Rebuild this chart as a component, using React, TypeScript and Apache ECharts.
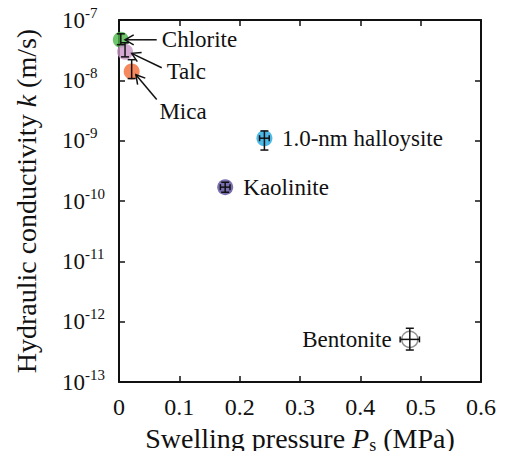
import { useEffect, useRef } from 'react';
import * as echarts from 'echarts';

// ---- data ----
const minerals = ['Chlorite', 'Talc', 'Mica', '1.0-nm halloysite', 'Kaolinite', 'Bentonite'];
const swellingPressure = [0.003, 0.010, 0.021, 0.241, 0.176, 0.482]; // MPa
const conductivity = [4.7e-8, 2.97e-8, 1.4e-8, 1.1e-9, 1.7e-10, 5.1e-13]; // m/s
const conductivityLow = [3.9e-8, 2.45e-8, 1.07e-8, 7.0e-10, 1.4e-10, 3.4e-13];
const conductivityHigh = [5.9e-8, 4.2e-8, 2.2e-8, 1.45e-9, 2.05e-10, 7.8e-13];
const pressureLow = [NaN, NaN, NaN, 0.233, 0.168, 0.466];
const pressureHigh = [NaN, NaN, NaN, 0.249, 0.184, 0.498];

const labelPressure = [0.071, 0.079, 0.067, 0.270, 0.206, 0.452];
const labelConductivity = [4.7e-8, 1.41e-8, 3.1e-9, 1.1e-9, 1.7e-10, 5.1e-13];
const labelAlign = ['left', 'left', 'left', 'left', 'left', 'right'];

const arrowFromPressure = [0.0625, 0.0708, 0.0625];
const arrowFromConductivity = [4.7e-8, 1.62e-8, 4.8e-9];
const arrowToPressure = [0.010, 0.021, 0.028];
const arrowToConductivity = [4.7e-8, 2.8e-8, 1.24e-8];

const xTicks = { min: 0, max: 0.6, interval: 0.1 };
const yExponents = { min: -13, max: -7, interval: 1 };

// ---- styles ----
const markerColors = ['#4cb848', '#c994c7', '#f26a35', '#1fa8e0', '#5a4d9c', '#ffffff'];
const markerBorders = ['none', 'none', 'none', 'none', 'none', '#777777'];
const FONT = "'Liberation Serif', 'Times New Roman', Times, serif";

export default function App() {
  const ref = useRef<HTMLDivElement>(null);

  useEffect(() => {
    if (!ref.current) return;
    const chart = echarts.init(ref.current, undefined, { renderer: 'svg' });
    const lg = (v: number) => Math.log10(v);

    const scatterData = minerals.map((name, i) => ({
      name,
      value: [swellingPressure[i], lg(conductivity[i])],
      itemStyle: {
        color: markerColors[i],
        borderColor: markerBorders[i] === 'none' ? undefined : markerBorders[i],
        borderWidth: markerBorders[i] === 'none' ? 0 : 1.5,
      },
    }));

    const errData = minerals.map((_, i) => [
      swellingPressure[i],
      lg(conductivity[i]),
      lg(conductivityLow[i]),
      lg(conductivityHigh[i]),
      pressureLow[i],
      pressureHigh[i],
    ]);

    const labelData = minerals.map((_, i) => [labelPressure[i], lg(labelConductivity[i])]);

    const arrowData = arrowFromPressure.map((_, i) => [
      arrowFromPressure[i],
      lg(arrowFromConductivity[i]),
      arrowToPressure[i],
      lg(arrowToConductivity[i]),
    ]);

    const lineStyle = { stroke: '#111', lineWidth: 1.5 };

    const option: any = {
      animation: false,
      backgroundColor: '#ffffff',
      textStyle: { fontFamily: FONT },
      grid: { left: 119, right: 24, top: 20, bottom: 75, containLabel: false },
      xAxis: [
        {
          type: 'value',
          min: xTicks.min,
          max: xTicks.max,
          interval: xTicks.interval,
          position: 'bottom',
          name: '{t|Swelling pressure }{i|P}{s|s}{t| (MPa)}',
          nameLocation: 'middle',
          nameGap: 32,
          nameTextStyle: {
            fontFamily: FONT,
            rich: {
              t: { fontFamily: FONT, fontSize: 28, color: '#111', lineHeight: 32 },
              i: { fontFamily: FONT, fontSize: 28, color: '#111', fontStyle: 'italic', lineHeight: 32 },
              s: { fontFamily: FONT, fontSize: 18, color: '#111', verticalAlign: 'bottom', lineHeight: 20 },
            },
          },
          axisLine: { show: true, onZero: false, lineStyle: { color: '#111', width: 2 } },
          axisTick: { show: true, inside: true, length: 6, lineStyle: { color: '#111', width: 1.5 } },
          axisLabel: {
            margin: 13,
            fontFamily: FONT,
            fontSize: 24,
            color: '#111',
            formatter: (v: number) => (v === 0 ? '0' : v.toFixed(1)),
          },
          splitLine: { show: false },
        },
        {
          type: 'value',
          min: xTicks.min,
          max: xTicks.max,
          interval: xTicks.interval,
          position: 'top',
          axisLine: { show: true, onZero: false, lineStyle: { color: '#111', width: 2 } },
          axisTick: { show: true, inside: true, length: 6, lineStyle: { color: '#111', width: 1.5 } },
          axisLabel: { show: false },
          splitLine: { show: false },
        },
      ],
      yAxis: [
        {
          type: 'value',
          min: yExponents.min,
          max: yExponents.max,
          interval: yExponents.interval,
          position: 'left',
          name: '{t|Hydraulic conductivity }{i|k}{t| (m/s)}',
          nameLocation: 'middle',
          nameGap: 77,
          nameTextStyle: {
            fontFamily: FONT,
            rich: {
              t: { fontFamily: FONT, fontSize: 28, color: '#111', lineHeight: 32 },
              i: { fontFamily: FONT, fontSize: 28, color: '#111', fontStyle: 'italic', lineHeight: 32 },
            },
          },
          axisLine: { show: true, onZero: false, lineStyle: { color: '#111', width: 2 } },
          axisTick: { show: true, inside: true, length: 6, lineStyle: { color: '#111', width: 1.5 } },
          axisLabel: {
            margin: 57,
            align: 'left',
            fontFamily: FONT,
            formatter: (v: number) => `{b|10}{s|${v}}`,
            rich: {
              b: { fontFamily: FONT, fontSize: 23, color: '#111', lineHeight: 30 },
              s: { fontFamily: FONT, fontSize: 15, color: '#111', verticalAlign: 'top', lineHeight: 15 },
            },
          },
          splitLine: { show: false },
        },
        {
          type: 'value',
          min: yExponents.min,
          max: yExponents.max,
          interval: yExponents.interval,
          position: 'right',
          axisLine: { show: true, onZero: false, lineStyle: { color: '#111', width: 2 } },
          axisTick: { show: true, inside: true, length: 6, lineStyle: { color: '#111', width: 1.5 } },
          axisLabel: { show: false },
          splitLine: { show: false },
        },
      ],
      series: [
        {
          type: 'scatter',
          name: 'minerals',
          xAxisIndex: 0,
          yAxisIndex: 0,
          symbol: 'circle',
          symbolSize: 16,
          data: scatterData,
          z: 2,
        },
        {
          type: 'custom',
          name: 'errorbars',
          xAxisIndex: 0,
          yAxisIndex: 0,
          z: 3,
          data: errData,
          encode: { x: 0, y: 1 },
          renderItem: (params: any, api: any) => {
            const x = api.value(0);
            const y = api.value(1);
            const yl = api.value(2);
            const yh = api.value(3);
            const xl = api.value(4);
            const xh = api.value(5);
            const c = api.coord([x, y]);
            const lo = api.coord([x, yl]);
            const hi = api.coord([x, yh]);
            const cap = 4;
            const children: any[] = [
              { type: 'line', shape: { x1: c[0], y1: hi[1], x2: c[0], y2: lo[1] }, style: lineStyle },
              { type: 'line', shape: { x1: c[0] - cap, y1: hi[1], x2: c[0] + cap, y2: hi[1] }, style: lineStyle },
              { type: 'line', shape: { x1: c[0] - cap, y1: lo[1], x2: c[0] + cap, y2: lo[1] }, style: lineStyle },
            ];
            if (isFinite(xl) && isFinite(xh)) {
              const l = api.coord([xl, y]);
              const r = api.coord([xh, y]);
              children.push(
                { type: 'line', shape: { x1: l[0], y1: c[1], x2: r[0], y2: c[1] }, style: lineStyle },
                { type: 'line', shape: { x1: l[0], y1: c[1] - 3, x2: l[0], y2: c[1] + 3 }, style: lineStyle },
                { type: 'line', shape: { x1: r[0], y1: c[1] - 3, x2: r[0], y2: c[1] + 3 }, style: lineStyle },
              );
            }
            return { type: 'group', children };
          },
        },
        {
          type: 'custom',
          name: 'arrows',
          xAxisIndex: 0,
          yAxisIndex: 0,
          z: 4,
          data: arrowData,
          encode: { x: [0, 2], y: [1, 3] },
          renderItem: (params: any, api: any) => {
            const a = api.coord([api.value(0), api.value(1)]);
            const b = api.coord([api.value(2), api.value(3)]);
            const ang = Math.atan2(a[1] - b[1], a[0] - b[0]);
            const len = 10;
            const spread = Math.PI / 6;
            const p1 = [b[0] + len * Math.cos(ang + spread), b[1] + len * Math.sin(ang + spread)];
            const p2 = [b[0] + len * Math.cos(ang - spread), b[1] + len * Math.sin(ang - spread)];
            return {
              type: 'group',
              children: [
                { type: 'line', shape: { x1: a[0], y1: a[1], x2: b[0], y2: b[1] }, style: lineStyle },
                { type: 'polyline', shape: { points: [p1, b, p2] }, style: { stroke: '#111', lineWidth: 1.5, fill: 'none' } },
              ],
            };
          },
        },
        {
          type: 'custom',
          name: 'labels',
          xAxisIndex: 0,
          yAxisIndex: 0,
          z: 5,
          data: labelData,
          encode: { x: 0, y: 1 },
          renderItem: (params: any, api: any) => {
            const p = api.coord([api.value(0), api.value(1)]);
            const i = params.dataIndex;
            return {
              type: 'text',
              x: p[0],
              y: p[1],
              style: {
                text: minerals[i],
                fontFamily: FONT,
                fontSize: 23,
                fill: '#111',
                align: labelAlign[i],
                verticalAlign: 'middle',
              },
            };
          },
        },
      ],
    };

    chart.setOption(option);
    return () => chart.dispose();
  }, []);

  return <div ref={ref} style={{ width: 505, height: 459, margin: -8 }} />;
}
